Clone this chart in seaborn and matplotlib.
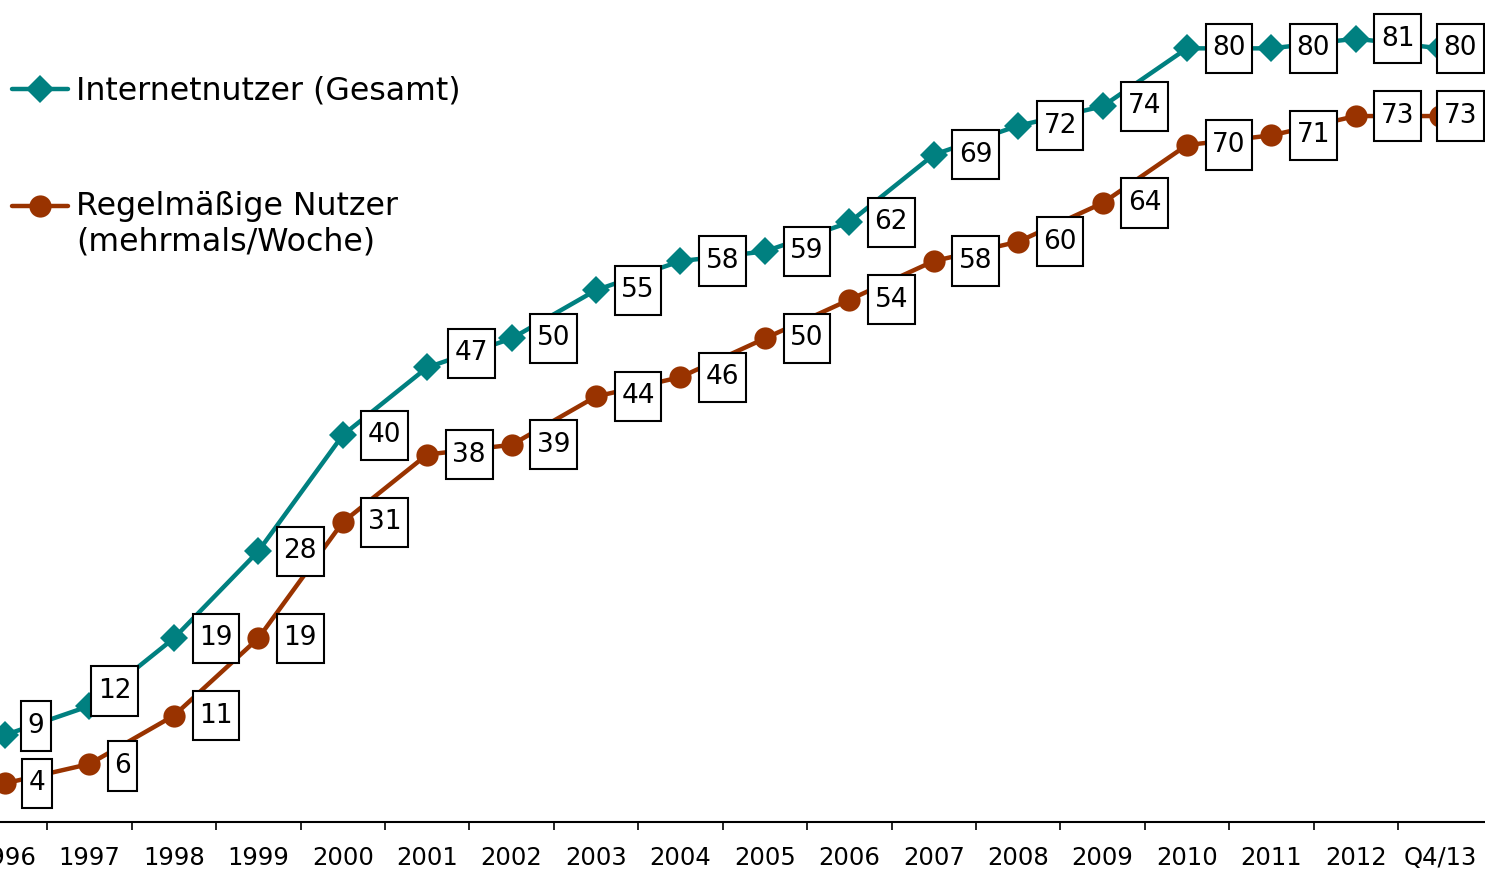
import numpy as np
import pandas as pd
import seaborn as sns
import matplotlib.pyplot as plt
from matplotlib.lines import Line2D
from matplotlib.legend_handler import HandlerLine2D
from matplotlib.path import Path

# data
years = ['1996', '1997', '1998', '1999', '2000', '2001', '2002', '2003', '2004',
         '2005', '2006', '2007', '2008', '2009', '2010', '2011', '2012', 'Q4/13']
gesamt = [9, 12, 19, 28, 40, 47, 50, 55, 58, 59, 62, 69, 72, 74, 80, 80, 81, 80]
regelm = [4, 6, 11, 19, 31, 38, 39, 44, 46, 50, 54, 58, 60, 64, 70, 71, 73, 73]

label_gesamt = 'Internetnutzer (Gesamt)'
label_regelm = 'Regelmäßige Nutzer\n(mehrmals/Woche)'

teal = '#008080'
brown = '#993300'

sns.set_theme(style='white')
plt.rcParams['font.family'] = ['DejaVu Sans']
plt.rcParams['text.color'] = 'black'
plt.rcParams['xtick.color'] = 'black'

df = pd.DataFrame({'pos': np.arange(len(years)), 'Jahr': years,
                   'Gesamt': gesamt, 'Regelm': regelm})

fig = plt.figure(figsize=(14.85, 8.72), dpi=100)
ax = fig.add_axes([0, 50 / 872, 1, 1 - 50 / 872])

sns.lineplot(data=df, x='pos', y='Gesamt', ax=ax, color=teal, lw=3.2,
             marker='D', markersize=14, markeredgewidth=0)
sns.lineplot(data=df, x='pos', y='Regelm', ax=ax, color=brown, lw=3.2,
             marker='o', markersize=16, markeredgewidth=0)


def tall_box(x0, y0, width, height, mutation_size):
    # square box with more padding top/bottom than left/right
    px, py = 0.25 * mutation_size, 0.44 * mutation_size
    x0, y0 = x0 - px, y0 - py
    x1, y1 = x0 + width + 2 * px, y0 + height + 2 * py
    return Path([(x0, y0), (x1, y0), (x1, y1), (x0, y1), (x0, y0)], closed=True)


# value boxes, shifted right of the point (pixel offsets, a few moved by hand)
default_off = (42, 0)
nudges = {
    ('g', 0): (31, 9), ('g', 1): (25, 15), ('g', 5): (44, 14), ('g', 17): (20, 0),
    ('r', 0): (32, 0), ('r', 1): (33, -2), ('r', 17): (20, 0),
}
box = dict(boxstyle=tall_box, fc='white', ec='black', lw=1.5)
for key, col in [('g', 'Gesamt'), ('r', 'Regelm')]:
    for i, row in df.iterrows():
        off = nudges.get((key, i), default_off)
        ax.annotate(f"{row[col]}", (row['pos'], row[col]), xytext=off,
                    textcoords='offset pixels', ha='center', va='center',
                    fontsize=19, color='black', bbox=box, zorder=5)

ax.set_xlim(-0.06, 17.53)
ax.set_ylim(0, 85)
ax.set_xlabel('')
ax.set_ylabel('')
ax.set_yticks([])
ax.set_xticks(df['pos'])
ax.set_xticklabels(years, fontsize=17.5)
ax.set_xticks(df['pos'][:-1] + 0.5, minor=True)
ax.tick_params(axis='x', which='major', length=0, pad=17)
ax.tick_params(axis='x', which='minor', bottom=True, length=6, width=1.2, color='black')

for s in ['top', 'left', 'right']:
    ax.spines[s].set_visible(False)
ax.spines['bottom'].set_color('black')
ax.spines['bottom'].set_linewidth(1.5)


class HandlerFirstLine(HandlerLine2D):
    # puts the handle level with the first line of a two-line label
    def __init__(self, shift, **kw):
        super().__init__(**kw)
        self.shift = shift

    def create_artists(self, legend, orig_handle, xdescent, ydescent, width,
                       height, fontsize, trans):
        arts = super().create_artists(legend, orig_handle, xdescent, ydescent,
                                      width, height, fontsize, trans)
        for a in arts:
            a.set_ydata(np.asarray(a.get_ydata()) + self.shift * fontsize)
        return arts


h_g = Line2D([], [], color=teal, lw=3.2, marker='D', markersize=14, markeredgewidth=0)
h_r = Line2D([], [], color=brown, lw=3.2, marker='o', markersize=16, markeredgewidth=0)
leg = ax.legend([h_g, h_r], [label_gesamt, label_regelm], loc='upper left',
                bbox_to_anchor=(12 / 1485, 1 - 76 / 872), bbox_transform=fig.transFigure,
                frameon=False, fontsize=22.8, handlelength=1.77, handletextpad=0.25,
                borderpad=0, borderaxespad=0, labelspacing=2.65,
                handler_map={h_r: HandlerFirstLine(0.6)})
for t in leg.get_texts():
    t.set_linespacing(1.2)

fig.savefig('out.png', dpi=100)
